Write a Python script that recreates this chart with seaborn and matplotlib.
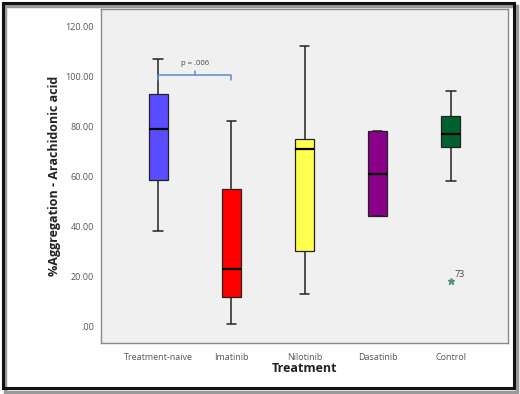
import numpy as np
import pandas as pd
import matplotlib
matplotlib.use("Agg")
import matplotlib.pyplot as plt
from matplotlib.patches import Rectangle
import seaborn as sns

# five-number summaries
treatments = ["Treatment-naive", "Imatinib", "Nilotinib", "Dasatinib", "Control"]
whisker_low = [38.0, 1.0, 13.0, 44.0, 58.0]
q1 = [58.5, 11.5, 30.0, 44.0, 71.5]
medians = [79.0, 23.0, 71.0, 61.0, 77.0]
q3 = [93.0, 55.0, 75.0, 78.0, 84.0]
whisker_high = [107.0, 82.0, 112.0, 78.0, 94.0]
outliers = [None, None, None, None, 18.0]
outlier_labels = [None, None, None, None, "73"]
box_colors = ["#5a4dff", "#ff0000", "#ffff4d", "#8a008a", "#00602e"]

# observations giving exactly those quartiles (9 points: Q1 at idx 2, median idx 4, Q3 idx 6)
rows = []
for i, t in enumerate(treatments):
    first = outliers[i] if outliers[i] is not None else whisker_low[i]
    vals = [first, whisker_low[i], q1[i], q1[i], medians[i], q3[i], q3[i],
            whisker_high[i], whisker_high[i]]
    for v in vals:
        rows.append({"Treatment": t, "value": v})
df = pd.DataFrame(rows)

sns.set_style("white")
plt.rcParams["font.family"] = ["Open Sans", "DejaVu Sans"]

fig = plt.figure(figsize=(5.2, 3.94), dpi=100)
ax = fig.add_axes([101 / 520, 1 - 343 / 394, 407 / 520, 334 / 394])
ax.set_facecolor("#f0f0f0")

sns.boxplot(data=df, x="Treatment", y="value", hue="Treatment", palette=box_colors,
            order=treatments, hue_order=treatments, width=0.26, linewidth=0.9,
            saturation=1, linecolor="#222222", legend=False, ax=ax,
            medianprops=dict(color="black", linewidth=1.6),
            whiskerprops=dict(color="#222222", linewidth=1.1),
            capprops=dict(color="#222222", linewidth=1.1),
            flierprops=dict(marker="*", markersize=5, markerfacecolor="#4a9a7a",
                            markeredgecolor="#4a9a7a"))

# outlier case number
for i, lab in enumerate(outlier_labels):
    if lab is not None:
        ax.text(i + 0.05, outliers[i] + 0.8, lab, fontsize=6.5, color="#444444",
                ha="left", va="bottom")

# significance bracket
bc = "#5b8fc9"
ax.plot([0, 0, 1, 1], [98.4, 100.6, 100.6, 98.4], color=bc, lw=1.1)
ax.plot([0.5, 0.5], [100.6, 102.2], color=bc, lw=1.1)
ax.text(0.5, 103.5, "p = .006", fontsize=5.5, color="#444444", ha="center", va="bottom")

ax.set_xlim(-0.78, 4.78)
ax.set_ylim(-6.8, 126.8)
yt = [0, 20, 40, 60, 80, 100, 120]
ax.set_yticks(yt)
ax.set_yticklabels([".00" if v == 0 else f"{v:.2f}" for v in yt])
ax.tick_params(axis="both", direction="out", length=3, width=0.8, color="#555555",
               labelsize=6.5, labelcolor="#555555", pad=2)
ax.tick_params(axis="x", pad=4)

for s in ax.spines.values():
    s.set_color("#8a8a8a")
    s.set_linewidth(1.0)

ax.set_xlabel("Treatment", fontsize=9, fontweight="bold", color="#222222", labelpad=0)
ax.set_ylabel("%Aggregation - Arachidonic acid", fontsize=9, fontweight="bold",
              color="#222222", labelpad=3)

# outer frame with shadow
fig.patches.append(Rectangle((5 / 520, 1 - 392 / 394), 512 / 520, 386 / 394,
                             transform=fig.transFigure, fill=False,
                             edgecolor="#9a9a9a", lw=2.5))
fig.patches.append(Rectangle((3 / 520, 1 - 388 / 394), 511 / 520, 385 / 394,
                             transform=fig.transFigure, fill=False,
                             edgecolor="#111111", lw=2.2))

fig.savefig("out.png", dpi=100)
